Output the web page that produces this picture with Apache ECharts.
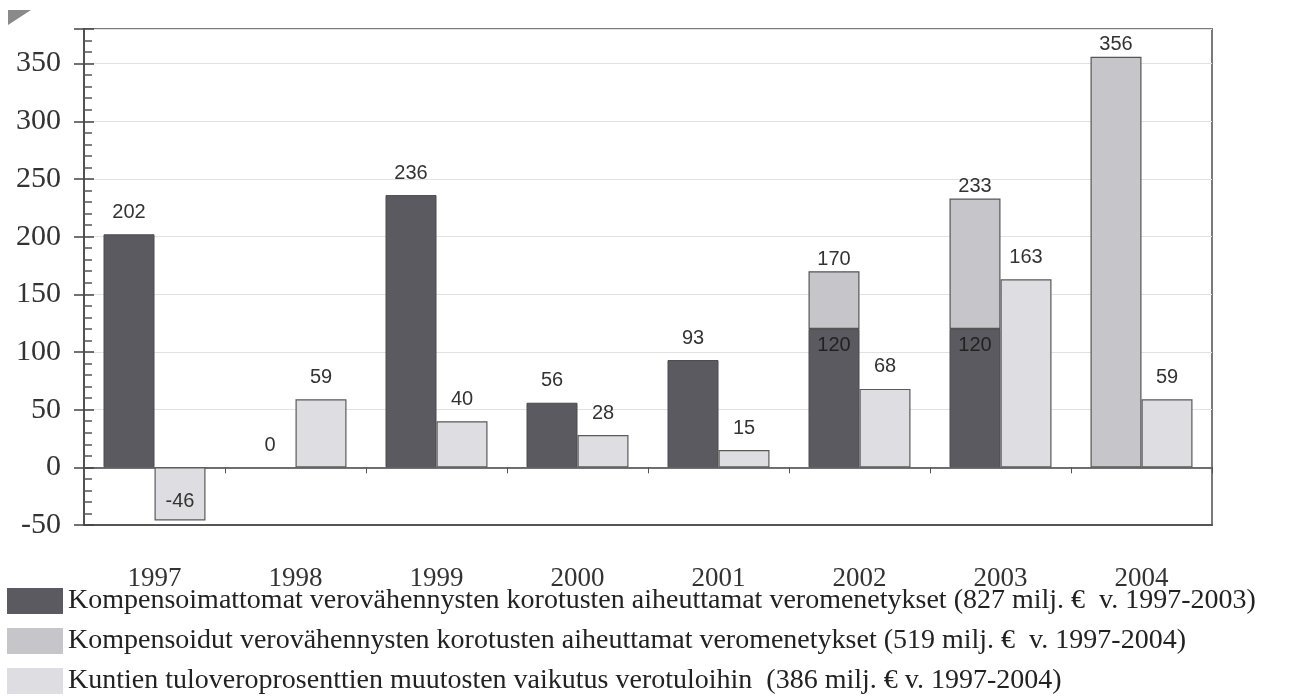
<!DOCTYPE html>
<html>
<head>
<meta charset="utf-8">
<script src="https://cdn.jsdelivr.net/npm/echarts@6/dist/echarts.min.js"></script>
<style>
html,body{margin:0;padding:0;background:#fff;}
#c{width:1293px;height:697px;}
</style>
</head>
<body>
<div id="c"></div>
<script>
const years = ['1997','1998','1999','2000','2001','2002','2003','2004'];
const uncompensated = [202, 0, 236, 56, 93, 120, 120, null];
const compensated = [null, null, null, null, null, 50, 113, 356];
const municipal = [-46, 59, 40, 28, 15, 68, 163, 59];
const yTicks = [-50, 0, 50, 100, 150, 200, 250, 300, 350];
const seriesNames = [
  'Kompensoimattomat verovähennysten korotusten aiheuttamat veromenetykset (827 milj. €  v. 1997-2003)',
  'Kompensoidut verovähennysten korotusten aiheuttamat veromenetykset (519 milj. €  v. 1997-2004)',
  'Kuntien tuloveroprosenttien muutosten vaikutus verotuloihin  (386 milj. € v. 1997-2004)'
];

const serif = '"Liberation Serif", "DejaVu Serif", serif';
const sans = '"Liberation Sans", Arial, sans-serif';
const lblBase = {fontFamily: sans, fontSize: 20, color: '#333'};

const darkData = uncompensated.map((v, i) => {
  if (v === null) return null;
  const stacked = compensated[i] !== null;
  const item = {value: v, label: Object.assign({show: true, position: stacked ? 'insideTop' : 'top', distance: stacked ? 7 : 12}, lblBase, stacked ? {color: '#222'} : {})};
  if (v === 0) item.itemStyle = {borderWidth: 0};
  return item;
});
const compData = compensated.map((v, i) => {
  if (v === null) return null;
  const total = (uncompensated[i] || 0) + v;
  return {value: v, label: Object.assign({show: true, position: 'top', distance: 2, formatter: String(total)}, lblBase)};
});
const muniData = municipal.map(v => ({
  value: v,
  label: Object.assign({show: true, position: v < 0 ? 'insideBottom' : 'top', distance: v < 0 ? 9 : 12}, lblBase)
}));

const legendTops = [587, 627, 667];
const legends = seriesNames.map((n, i) => ({
  orient: 'vertical', left: 7, top: legendTops[i], padding: 0, itemWidth: 56, itemHeight: 26,
  icon: 'rect', selectedMode: false,
  itemStyle: {borderWidth: 0},
  textStyle: {fontFamily: serif, fontSize: 28, color: '#222'},
  data: [n]
}));

const chart = echarts.init(document.getElementById('c'), null, {renderer: 'canvas'});
chart.setOption({
  animation: false,
  backgroundColor: '#fff',
  grid: {left: 84, right: 81, top: 29, bottom: 172, show: true, borderColor: '#7a7a7a', borderWidth: 2, backgroundColor: 'transparent'},
  graphic: [{
    type: 'polygon', shape: {points: [[8, 10], [31, 10], [8, 25]]}, style: {fill: '#8a8a8a'}
  }],
  legend: legends,
  xAxis: [{
    type: 'category', data: years, position: 'bottom',
    axisLine: {onZero: false, lineStyle: {color: '#555', width: 2}},
    axisTick: {show: false},
    axisLabel: {fontFamily: serif, fontSize: 27, color: '#333', margin: 40},
    splitLine: {show: false}
  }, {
    type: 'category', data: years, position: 'bottom',
    axisLine: {onZero: true, lineStyle: {color: '#444', width: 1.5}},
    axisTick: {show: true, length: 6, lineStyle: {color: '#555'}},
    axisLabel: {show: false},
    splitLine: {show: false}
  }],
  yAxis: [{
    type: 'value', min: -50, max: 380, interval: 50,
    axisLine: {show: true, lineStyle: {color: '#444', width: 1.5}},
    axisTick: {show: true, inside: false, length: 10, lineStyle: {color: '#444', width: 1.5}},
    axisLabel: {fontFamily: serif, fontSize: 30, color: '#333', margin: 23,
      formatter: v => (yTicks.indexOf(v) >= 0 ? String(v) : '')},
    splitLine: {show: true, lineStyle: {color: '#e2e2e2', width: 1}}
  }, {
    type: 'value', min: -50, max: 380, interval: 50, position: 'left',
    axisLine: {show: false},
    axisTick: {show: true, inside: true, length: 10, lineStyle: {color: '#444', width: 1.5}},
    minorTick: {show: true, splitNumber: 5, length: 8, lineStyle: {color: '#555', width: 1.5}},
    axisLabel: {show: false},
    splitLine: {show: false}
  }],
  series: [{
    name: seriesNames[0], type: 'bar', stack: 'a', barWidth: 51, barGap: '0%',
    itemStyle: {color: '#5b5a60', borderColor: '#4a4a4e', borderWidth: 1},
    data: darkData
  }, {
    name: seriesNames[1], type: 'bar', stack: 'a', barWidth: 51, barGap: '0%',
    itemStyle: {color: '#c6c5ca', borderColor: '#555', borderWidth: 1.2},
    data: compData
  }, {
    name: seriesNames[2], type: 'bar', barWidth: 51, barGap: '0%',
    itemStyle: {color: '#dedde1', borderColor: '#5a5a5a', borderWidth: 1.2},
    data: muniData
  }]
});
</script>
</body>
</html>
